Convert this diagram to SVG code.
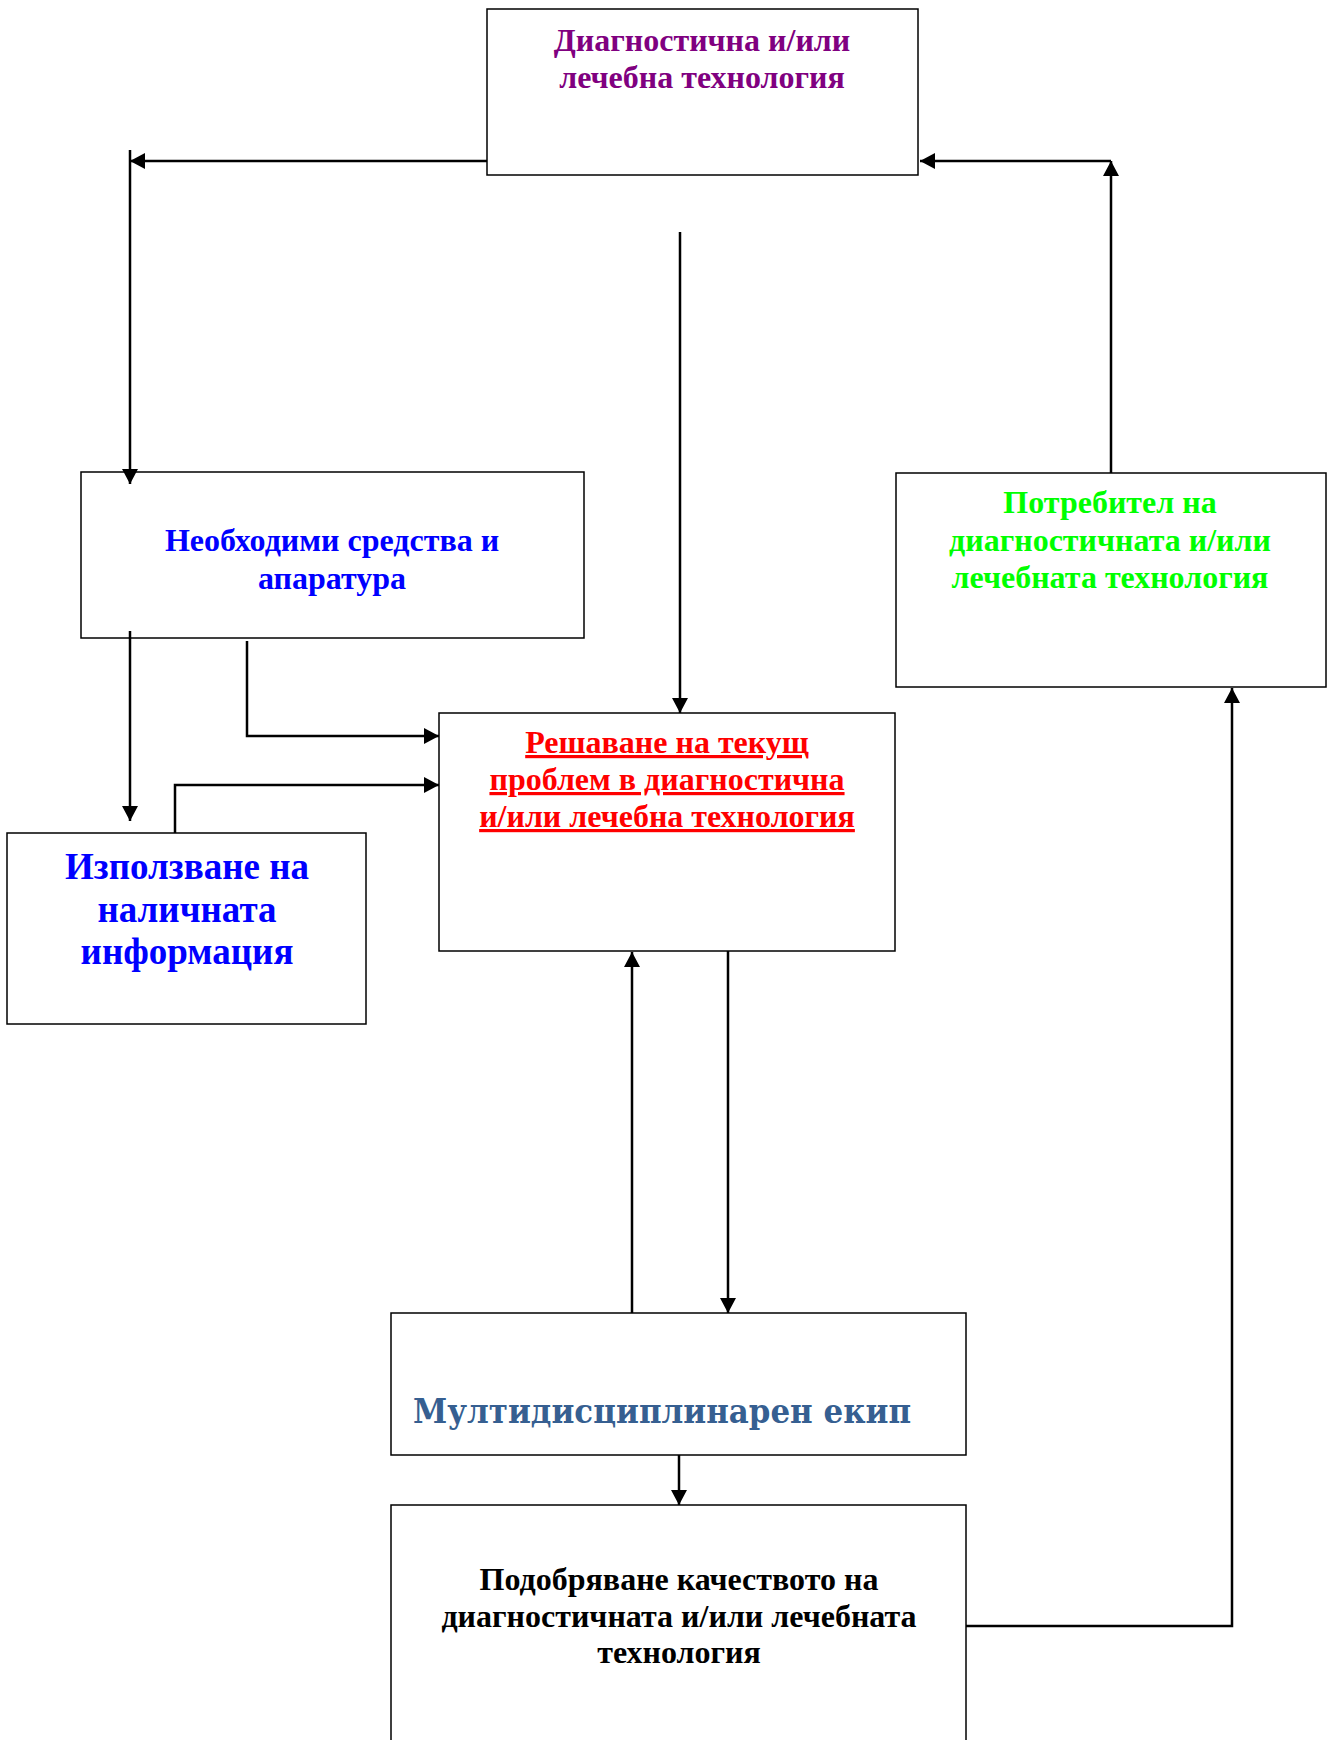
<svg xmlns="http://www.w3.org/2000/svg" width="1333" height="1740" viewBox="0 0 1333 1740">
<style>
.box{fill:#fff;stroke:#000;stroke-width:1.5}
.t{font-family:"Liberation Serif","Times New Roman",serif;font-weight:bold;font-size:32px;text-anchor:middle}
.c{fill:none;stroke:#000;stroke-width:2.5}
</style>
<defs>
<marker id="ah" markerUnits="userSpaceOnUse" markerWidth="16" markerHeight="16" refX="15" refY="8" orient="auto">
<path d="M0,0 L15,8 L0,16 Z" fill="#000"/>
</marker>
</defs>
<rect width="1333" height="1740" fill="#fff"/>
<g id="tech">
<rect class="box" x="487" y="9" width="431" height="166"/>
<text class="t" fill="#800080"><tspan x="702" y="51">Диагностична и/или</tspan><tspan x="702" y="88">лечебна технология</tspan></text>
</g>
<g id="means">
<rect class="box" x="81" y="472" width="503" height="166"/>
<text class="t" fill="#0000FF"><tspan x="332" y="551">Необходими средства и</tspan><tspan x="332" y="589">апаратура</tspan></text>
</g>
<g id="consumer">
<rect class="box" x="896" y="473" width="430" height="214"/>
<text class="t" fill="#00FF00"><tspan x="1110" y="513">Потребител на</tspan><tspan x="1110" y="551">диагностичната и/или</tspan><tspan x="1110" y="588">лечебната технология</tspan></text>
</g>
<g id="solving">
<rect class="box" x="439" y="713" width="456" height="238"/>
<text class="t" fill="#FF0000" text-decoration="underline"><tspan x="667" y="753">Решаване на текущ</tspan><tspan x="667" y="790">проблем в диагностична</tspan><tspan x="667" y="827">и/или лечебна технология</tspan></text>
</g>
<g id="info">
<rect class="box" x="7" y="833" width="359" height="191"/>
<text class="t" fill="#0000FF" style="font-size:37px"><tspan x="187" y="879">Използване на</tspan><tspan x="187" y="922">наличната</tspan><tspan x="187" y="964">информация</tspan></text>
</g>
<g id="team">
<rect class="box" x="391" y="1313" width="575" height="142"/>
<text x="413" y="1423" fill="#365F91" style="font-family:'DejaVu Serif',serif;font-weight:bold;font-size:33px" textLength="498" lengthAdjust="spacingAndGlyphs">Мултидисциплинарен екип</text>
</g>
<g id="quality">
<rect class="box" x="391" y="1505" width="575" height="250"/>
<text class="t" fill="#000"><tspan x="679" y="1590">Подобряване качеството на</tspan><tspan x="679" y="1627">диагностичната и/или лечебната</tspan><tspan x="679" y="1663">технология</tspan></text>
</g>
<g id="connectors">
<path class="c" d="M487,161 H130" marker-end="url(#ah)"/>
<path class="c" d="M130,150 V484" marker-end="url(#ah)"/>
<path class="c" d="M680,232 V713" marker-end="url(#ah)"/>
<path class="c" d="M1111,473 V161" marker-end="url(#ah)"/>
<path class="c" d="M1111,161 H920" marker-end="url(#ah)"/>
<path class="c" d="M130,631 V821" marker-end="url(#ah)"/>
<path class="c" d="M247,641 V736 H439" marker-end="url(#ah)"/>
<path class="c" d="M175,833 V785 H439" marker-end="url(#ah)"/>
<path class="c" d="M632,1313 V952" marker-end="url(#ah)"/>
<path class="c" d="M728,951 V1313" marker-end="url(#ah)"/>
<path class="c" d="M679,1455 V1505" marker-end="url(#ah)"/>
<path class="c" d="M966,1626 H1232 V688" marker-end="url(#ah)"/>
</g>
</svg>
